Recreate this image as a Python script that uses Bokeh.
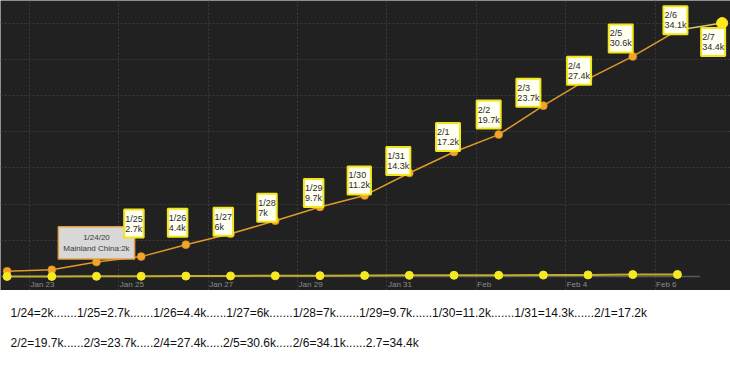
import pandas as pd
from bokeh.plotting import figure
from bokeh.models import ColumnDataSource, Range1d, Grid, FixedTicker
from bokeh.layouts import column
from bokeh.core.properties import value
from bokeh.embed import file_html
from bokeh.resources import INLINE

# ---------------- data ----------------
dates = ["2020-01-22", "2020-01-23", "2020-01-24", "2020-01-25", "2020-01-26",
         "2020-01-27", "2020-01-28", "2020-01-29", "2020-01-30", "2020-01-31",
         "2020-02-01", "2020-02-02", "2020-02-03", "2020-02-04", "2020-02-05",
         "2020-02-06"]
mainland_k = [0.73, 0.92, 2.0, 2.75, 4.4, 5.9, 7.7, 9.6, 11.2, 14.3,
              17.2, 19.6, 23.6, 27.3, 30.4, 34.0]
other_k = [0.01, 0.01, 0.03, 0.04, 0.06, 0.08, 0.10, 0.12, 0.14, 0.16,
           0.17, 0.18, 0.20, 0.22, 0.27, 0.28]
last_date = "2020-02-07"
last_mainland_k = 35.0

label_dates = ["2020-01-25", "2020-01-26", "2020-01-27", "2020-01-28", "2020-01-29",
               "2020-01-30", "2020-01-31", "2020-02-01", "2020-02-02", "2020-02-03",
               "2020-02-04", "2020-02-05", "2020-02-06", "2020-02-07"]
label_days = ["1/25", "1/26", "1/27", "1/28", "1/29", "1/30", "1/31", "2/1",
              "2/2", "2/3", "2/4", "2/5", "2/6", "2/7"]
label_values = ["2.7k", "4.4k", "6k", "7k", "9.7k", "11.2k", "14.3k", "17.2k",
                "19.7k", "23.7k", "27.4k", "30.6k", "34.1k", "34.4k"]
tooltip_date = "2020-01-24"
tooltip_lines = ["1/24/20", "Mainland China:2k"]

tick_dates = ["2020-01-23", "2020-01-25", "2020-01-27", "2020-01-29",
              "2020-01-31", "2020-02-02", "2020-02-04", "2020-02-06"]
tick_labels = ["Jan 23", "Jan 25", "Jan 27", "Jan 29", "Jan 31", "Feb", "Feb 4", "Feb 6"]
y_grid_values = [5, 10, 15, 20, 25, 30, 35]

footer_lines = [
    "1/24=2k.......1/25=2.7k.......1/26=4.4k......1/27=6k.......1/28=7k......."
    "1/29=9.7k......1/30=11.2k.......1/31=14.3k......2/1=17.2k",
    "2/2=19.7k......2/3=23.7k.....2/4=27.4k.....2/5=30.6k.....2/6=34.1k......2.7=34.4k",
]

# label box placement (pixel offsets of box top-left from the point)
label_dx = [-17, -18, -17, -18, -16, -17, -23, -18, -22, -27, -21, -24, -14, -21]
label_dy = [-47, -36, -26, -27, -28, -29, -26, -29, -34, -27, -22, -32, -24, 5]
# footer text placement (pixels inside the footer strip)
footer_x = [10, 10]
footer_y = [22, 52]

# ---------------- helpers ----------------
noon = pd.Timedelta(hours=12)
x_pts = pd.to_datetime(dates) + noon
x_last = pd.Timestamp(last_date) + noon
all_y = mainland_k + [last_mainland_k]
lookup = {pd.Timestamp(d) + noon: v for d, v in zip(dates + [last_date], all_y)}

def ms(ts):
    return pd.Timestamp(ts).timestamp() * 1000.0

x_start = pd.Timestamp(dates[0]) + noon - pd.Timedelta(days=0.1477)
x_end = x_start + pd.Timedelta(days=16.335)

BG = "#212121"
p = figure(width=730, height=290, x_axis_type="datetime",
           x_axis_location=None, y_axis_location=None,
           x_range=Range1d(x_start, x_end), y_range=Range1d(-1.93, 38.12),
           output_backend="svg", toolbar_location=None, min_border=0,
           background_fill_color=BG, border_fill_color=BG, outline_line_color=None)
p.grid.visible = False

p.add_layout(Grid(dimension=0, ticker=FixedTicker(ticks=[ms(d) for d in tick_dates]),
                  grid_line_color="#3c3c3c", grid_line_dash="2 2", grid_line_width=1))
p.add_layout(Grid(dimension=1, ticker=FixedTicker(ticks=y_grid_values),
                  grid_line_color="#3c3c3c", grid_line_dash="2 2", grid_line_width=1))

# baseline
p.line(x=[x_start, pd.Timestamp(last_date)], y=[0, 0], line_color="#5a5a5a", line_width=1.5)

# mainland series
src_m = ColumnDataSource(dict(x=list(x_pts), y=mainland_k))
p.line("x", "y", source=src_m, line_color="#e09a28", line_width=1.5)
p.scatter("x", "y", source=src_m, size=8, fill_color="#f2a42a", line_color="#d08a1a", line_width=0.5)

# highlighted last point
p.line(x=[x_pts[-1], x_last], y=[mainland_k[-1], last_mainland_k], line_color="#d8ca6a", line_width=1.5)
p.scatter(x=[x_last], y=[last_mainland_k], size=11, fill_color="#ffe81c", line_color="#ffe81c")

# other series
src_o = ColumnDataSource(dict(x=list(x_pts), y=other_k))
p.line("x", "y", source=src_o, line_color="#bfae2c", line_width=2)
p.scatter("x", "y", source=src_o, size=8, fill_color="#f6e822", line_color="#f6e822")

# tick labels
src_t = ColumnDataSource(dict(x=[pd.Timestamp(d) for d in tick_dates], y=[0] * len(tick_dates), t=tick_labels))
p.text("x", "y", text="t", source=src_t, x_offset=1, y_offset=8,
       text_align="left", text_baseline="middle", text_font=value("Liberation Sans"),
       text_font_size="8px", text_color="#8c8c8c")

# tooltip
tx = pd.Timestamp(tooltip_date) + noon
p.text(x=[tx], y=[lookup[tx]], text=["\n".join(tooltip_lines)], y_offset=-3,
       anchor="bottom_center", text_align="center", text_baseline="top",
       text_font=value("Liberation Sans"), text_font_size="8px", text_color="#3a3a3a",
       text_line_height=1.25, background_fill_color="#d8d8d8",
       border_line_color="#e2a042", border_line_width=1.5, padding=(5, 6))

# value boxes
lx = [pd.Timestamp(d) + noon for d in label_dates]
src_l = ColumnDataSource(dict(x=lx, y=[lookup[v] for v in lx],
                              t=[a + "\n" + b for a, b in zip(label_days, label_values)],
                              dx=label_dx, dy=label_dy))
p.text("x", "y", text="t", source=src_l, x_offset="dx", y_offset="dy",
       anchor="top_left", text_align="left", text_baseline="top",
       text_font=value("Liberation Sans"), text_font_size="9px", text_color="#2a2a2a",
       text_line_height=1.0, background_fill_color="#fffff2",
       border_line_color="#f2e619", border_line_width=2, padding=(1, 4))

# footer strip with the value list
f = figure(width=730, height=80, x_range=Range1d(0, 730), y_range=Range1d(80, 0),
           x_axis_location=None, y_axis_location=None, output_backend="svg",
           toolbar_location=None, min_border=0, outline_line_color=None,
           background_fill_color="white", border_fill_color="white")
f.grid.visible = False
f.text(x=footer_x, y=footer_y, text=footer_lines,
       text_align="left", text_baseline="middle",
       text_font=value("Liberation Sans"), text_font_size="12px", text_color="#111111")

layout = column(p, f, spacing=0)
open("out.html", "w").write(file_html(layout, INLINE))
